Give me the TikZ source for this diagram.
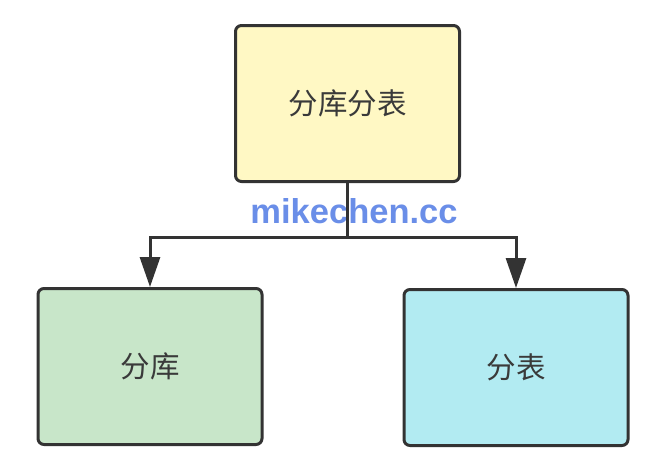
\documentclass[tikz,border=0pt]{standalone}
\usepackage{fontspec}
\usepackage{xcolor}
\usepackage{tikz}
\usetikzlibrary{arrows.meta}
\setmainfont{Liberation Sans}
\newfontfamily\cjk{Noto Sans CJK SC}

\definecolor{boxLine}{HTML}{333333}
\definecolor{boxText}{HTML}{3A3A3A}
\definecolor{fillTop}{HTML}{FFF8C4}
\definecolor{fillLeft}{HTML}{C8E6C9}
\definecolor{fillRight}{HTML}{B2EBF2}
\definecolor{markBlue}{HTML}{6A8EE8}

\tikzset{
    splitBox/.style={draw=boxLine, line width=3pt, rounded corners=6pt,
        minimum width=224pt, minimum height=156pt, inner sep=0pt,
        font=\cjk\fontsize{29.5}{32}\selectfont, text=boxText},
    linkLine/.style={draw=boxLine, line width=3pt},
    linkArrow/.style={linkLine, -{Triangle[length=30pt,width=20pt]}}
}

\begin{document}
\begin{tikzpicture}[x=1pt, y=-1pt]

        \useasboundingbox (0,0) rectangle (646,458);

        % Watermark
        \node[anchor=base, inner sep=0pt, text=markBlue,
            font=\bfseries\fontsize{34.5}{36}\selectfont] (mark) at (354,223) {mikechen.cc};

        % Sharding root
        \node[splitBox, fill=fillTop] (dbTable) at (347.5,103.5) {分库分表};

        % Database split
        \node[splitBox, fill=fillLeft] (db) at (150,366.5) {分库};

        % Table split
        \node[splitBox, fill=fillRight] (table) at (516,367.5) {分表};

        % Connectors
        \coordinate (fork) at (347.5,237);
        \draw[linkLine] (dbTable.south) -- (fork);
        \draw[linkArrow] (fork) -| (db.north);
        \draw[linkArrow] (fork) -| (table.north);
    \end{tikzpicture}
\end{document}
